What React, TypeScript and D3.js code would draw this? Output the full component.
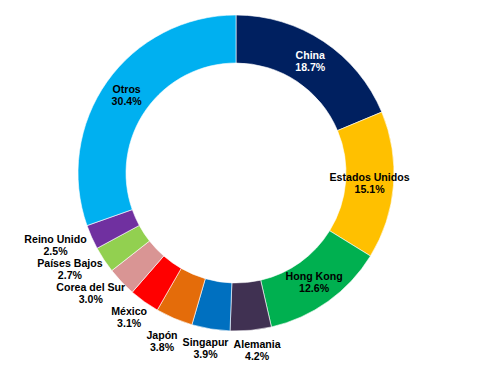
import React, { useEffect, useRef } from "react";
import * as d3 from "d3";

const countries = [
  "China",
  "Estados Unidos",
  "Hong Kong",
  "Alemania",
  "Singapur",
  "Japón",
  "México",
  "Corea del Sur",
  "Países Bajos",
  "Reino Unido",
  "Otros",
];
const shares = [18.7, 15.1, 12.6, 4.2, 3.9, 3.8, 3.1, 3.0, 2.7, 2.5, 30.4];
const colors = [
  "#002060",
  "#FFC000",
  "#00B050",
  "#403152",
  "#0070C0",
  "#E46C0A",
  "#FF0000",
  "#D99594",
  "#92D050",
  "#7030A0",
  "#00B0F0",
];
// slices big enough to carry the label inside the ring
const insideLabel = [true, true, true, false, false, false, false, false, false, false, true];

const App = () => {
  const svgRef = useRef<SVGSVGElement>(null);

  useEffect(() => {
    const width = 497;
    const height = 369;
    const cx = 236;
    const cy = 173;
    const outer = 158;
    const inner = 110;

    const svg = d3.select(svgRef.current);
    svg.selectAll("*").remove();
    svg.attr("width", width).attr("height", height);

    const g = svg.append("g").attr("transform", `translate(${cx},${cy})`);

    const data = countries.map((name, i) => ({ name, value: shares[i], i }));
    const pie = d3
      .pie<any>()
      .sort(null)
      .value((d) => d.value);
    const arcs = pie(data);

    const arc = d3.arc<any>().innerRadius(inner).outerRadius(outer);

    g.selectAll("path")
      .data(arcs)
      .enter()
      .append("path")
      .attr("d", arc)
      .attr("fill", (d) => colors[d.data.i])
      .attr("stroke", "#fff")
      .attr("stroke-width", 0.6);

    const fontSize = 10.6;
    const lineH = 12;

    const labels: any[] = [];
    arcs.forEach((a) => {
      const i = a.data.i;
      const mid = (a.startAngle + a.endAngle) / 2;
      const dx = Math.sin(mid);
      const dy = -Math.cos(mid);

      const label = g
        .append("text")
        .attr("font-family", "Arial, 'Liberation Sans', sans-serif")
        .attr("font-weight", "bold")
        .attr("font-size", fontSize)
        .attr("text-anchor", "middle")
        .attr("fill", i === 0 ? "#fff" : "#000");
      label.append("tspan").attr("x", 0).attr("dy", 0).text(a.data.name);
      label
        .append("tspan")
        .attr("x", 0)
        .attr("dy", lineH)
        .text(`${a.data.value.toFixed(1)}%`);

      const w = (label.node() as SVGTextElement).getBBox().width;
      const h = lineH * 2;

      let x: number;
      let y: number;
      if (insideLabel[i]) {
        const r = (inner + outer) / 2;
        x = dx * r;
        y = dy * r;
      } else {
        const r = outer + 8;
        x = dx * r + dx * (w / 2);
        y = dy * r + dy * (h / 2);
      }
      labels.push({ label, x, y, w, h, outside: !insideLabel[i] });
    });

    // nudge outside labels apart so they keep a small gap
    const pad = 5;
    const outs = labels.filter((l) => l.outside);
    for (let k = 0; k < 20; k++) {
      for (let a = 0; a < outs.length - 1; a++) {
        const p = outs[a];
        const q = outs[a + 1];
        const ox = (p.w + q.w) / 2 + pad - Math.abs(p.x - q.x);
        const oy = (p.h + q.h) / 2 - Math.abs(p.y - q.y);
        if (ox > 0 && oy > 0) {
          if (ox < oy) {
            const s = Math.sign(q.x - p.x) || 1;
            p.x -= (s * ox) / 2;
            q.x += (s * ox) / 2;
          } else {
            const s = Math.sign(q.y - p.y) || 1;
            p.y -= (s * oy) / 2;
            q.y += (s * oy) / 2;
          }
        }
      }
    }

    labels.forEach((l) => {
      // baseline of first line, block vertically centered on y
      l.label.attr("transform", `translate(${l.x},${l.y - lineH / 2 + fontSize * 0.35})`);
    });
  }, []);

  return <svg ref={svgRef} style={{ position: "absolute", left: 0, top: 0 }}></svg>;
};

export default App;
